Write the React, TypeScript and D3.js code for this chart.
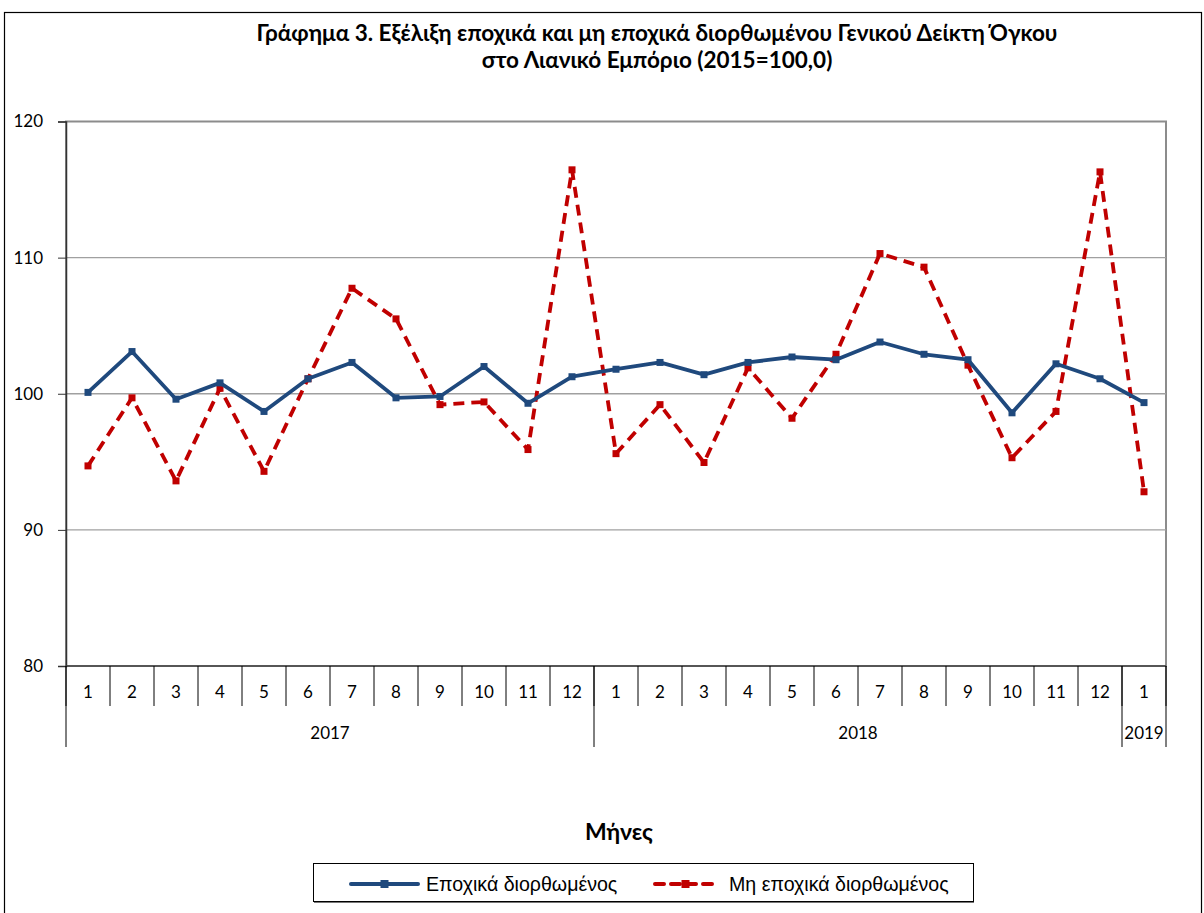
import React, { useEffect, useRef } from "react";
import * as d3 from "d3";

const months = ["1","2","3","4","5","6","7","8","9","10","11","12","1","2","3","4","5","6","7","8","9","10","11","12","1"];
const years = [
  { label: "2017", count: 12 },
  { label: "2018", count: 12 },
  { label: "2019", count: 1 },
];
const seasonal = [100.1,103.1,99.6,100.8,98.7,101.1,102.3,99.7,99.8,102.0,99.3,101.25,101.8,102.3,101.4,102.3,102.7,102.5,103.8,102.9,102.5,98.6,102.2,101.1,99.35];
const nonSeasonal = [94.7,99.7,93.6,100.4,94.3,101.1,107.75,105.5,99.2,99.4,95.9,116.45,95.6,99.2,94.95,101.9,98.2,102.9,110.3,109.3,102.1,95.3,98.7,116.3,92.8];
const yTicks = [80, 90, 100, 110, 120];

const titleLines = [
  "Γράφημα 3. Εξέλιξη εποχικά και μη εποχικά διορθωμένου Γενικού Δείκτη Όγκου",
  "στο Λιανικό Εμπόριο (2015=100,0)",
];
const seriesNames = ["Εποχικά διορθωμένος", "Μη εποχικά διορθωμένος"];

const BLUE = "#1f497d";
const RED = "#c00000";
const FONT = "Lato, 'Open Sans', sans-serif";
const LEGEND_FONT = "'Liberation Sans', Arial, sans-serif";

const Chart = () => {
  const ref = useRef<SVGSVGElement>(null);

  useEffect(() => {
    const svg = d3.select(ref.current);
    svg.selectAll("*").remove();

    const left = 66, right = 1166, top = 121.5, bottom = 666;

    const x = d3.scaleBand<number>()
      .domain(d3.range(months.length))
      .range([left, right]);
    const y = d3.scaleLinear().domain([80, 120]).range([bottom, top]);
    const cx = (i: number) => (x(i) as number) + x.bandwidth() / 2;

    // outer frame
    svg.append("rect")
      .attr("x", 4.5).attr("y", 12.5).attr("width", 1197).attr("height", 920)
      .attr("fill", "none").attr("stroke", "#000").attr("stroke-width", 1.2);

    // title
    svg.append("g").selectAll("text")
      .data(titleLines).enter().append("text")
      .attr("x", 657).attr("y", (d, i) => 41 + i * 27)
      .attr("text-anchor", "middle")
      .attr("font-family", FONT).attr("font-weight", "bold")
      .attr("font-size", 22.5).attr("fill", "#000")
      .text((d) => d);

    // plot frame + grid
    svg.append("rect")
      .attr("x", left).attr("y", top).attr("width", right - left).attr("height", bottom - top)
      .attr("fill", "none").attr("stroke", "#8c8c8c").attr("stroke-width", 2);

    svg.append("g").selectAll("line")
      .data(yTicks.slice(1, -1)).enter().append("line")
      .attr("x1", left).attr("x2", right)
      .attr("y1", (d) => y(d)).attr("y2", (d) => y(d))
      .attr("stroke", "#a0a0a0").attr("stroke-width", 1.3);

    // y axis
    const yAxis = d3.axisLeft(y).tickValues(yTicks).tickSize(8).tickPadding(15);
    const gy = svg.append("g").attr("transform", `translate(${left},0)`).call(yAxis);
    gy.select(".domain").attr("stroke", "#333").attr("stroke-width", 1.5);
    gy.selectAll(".tick line").attr("stroke", "#333");
    gy.selectAll("text").attr("font-family", FONT).attr("font-size", 17).attr("fill", "#000");

    // x axis line
    svg.append("line")
      .attr("x1", left).attr("x2", right).attr("y1", bottom).attr("y2", bottom)
      .attr("stroke", "#444").attr("stroke-width", 1.5);

    // month separators
    svg.append("g").selectAll("line")
      .data(d3.range(months.length + 1)).enter().append("line")
      .attr("x1", (i) => i < months.length ? (x(i) as number) : right)
      .attr("x2", (i) => i < months.length ? (x(i) as number) : right)
      .attr("y1", bottom).attr("y2", bottom + 40)
      .attr("stroke", "#000").attr("stroke-width", 1);

    svg.append("g").selectAll("text")
      .data(months).enter().append("text")
      .attr("x", (d, i) => cx(i)).attr("y", bottom + 32)
      .attr("text-anchor", "middle")
      .attr("font-family", FONT).attr("font-size", 17).attr("fill", "#000")
      .text((d) => d);

    // year groups
    let start = 0;
    const yearData = years.map((yr) => {
      const s = start;
      start += yr.count;
      return { ...yr, x0: x(s) as number, x1: start < months.length ? (x(start) as number) : right };
    });
    svg.append("g").selectAll("line")
      .data([...yearData.map((d) => d.x0), right]).enter().append("line")
      .attr("x1", (d) => d).attr("x2", (d) => d)
      .attr("y1", bottom).attr("y2", bottom + 81)
      .attr("stroke", "#000").attr("stroke-width", 1);
    svg.append("g").selectAll("text")
      .data(yearData).enter().append("text")
      .attr("x", (d) => (d.x0 + d.x1) / 2).attr("y", bottom + 73)
      .attr("text-anchor", "middle")
      .attr("font-family", FONT).attr("font-size", 17).attr("fill", "#000")
      .text((d) => d.label);

    // axis title
    svg.append("text")
      .attr("x", 619).attr("y", 840).attr("text-anchor", "middle")
      .attr("font-family", FONT).attr("font-weight", "bold").attr("font-size", 23)
      .text("Μήνες");

    // lines
    const line = d3.line<number>().x((d, i) => cx(i)).y((d) => y(d));
    const series = [
      { values: nonSeasonal, color: RED, dash: "11,7" },
      { values: seasonal, color: BLUE, dash: null },
    ];
    series.forEach((s) => {
      svg.append("path")
        .datum(s.values)
        .attr("d", line)
        .attr("fill", "none").attr("stroke", s.color).attr("stroke-width", 3.8)
        .attr("stroke-dasharray", s.dash)
        .attr("stroke-linejoin", "round");
      svg.append("g").selectAll("rect")
        .data(s.values).enter().append("rect")
        .attr("x", (d, i) => cx(i) - 3.5).attr("y", (d) => y(d) - 3.5)
        .attr("width", 7).attr("height", 7)
        .attr("fill", s.color);
    });

    // legend
    const lg = svg.append("g");
    lg.append("rect")
      .attr("x", 313.5).attr("y", 863.5).attr("width", 660).attr("height", 38)
      .attr("fill", "#fff").attr("stroke", "#000").attr("stroke-width", 1);
    lg.append("line")
      .attr("x1", 314).attr("x2", 974).attr("y1", 902.5).attr("y2", 902.5)
      .attr("stroke", "#777").attr("stroke-width", 1);
    const items = [
      { name: seriesNames[0], color: BLUE, dash: null, x0: 351, x1: 418, tx: 426 },
      { name: seriesNames[1], color: RED, dash: "9,7", x0: 655, x1: 716, tx: 729 },
    ];
    items.forEach((it) => {
      lg.append("line")
        .attr("x1", it.x0).attr("x2", it.x1).attr("y1", 884).attr("y2", 884)
        .attr("stroke", it.color).attr("stroke-width", 4)
        .attr("stroke-dasharray", it.dash).attr("stroke-linecap", "round");
      lg.append("rect")
        .attr("x", (it.x0 + it.x1) / 2 - 4).attr("y", 880).attr("width", 8).attr("height", 8)
        .attr("fill", it.color);
      lg.append("text")
        .attr("x", it.tx).attr("y", 891)
        .attr("font-family", LEGEND_FONT).attr("font-size", 19.6).attr("fill", "#000")
        .text(it.name);
    });
  }, []);

  return <svg ref={ref} width={1204} height={913} style={{ display: "block" }} />;
};

export default function App() {
  return (
    <div style={{ position: "absolute", left: 0, top: 0 }}>
      <Chart />
    </div>
  );
}
